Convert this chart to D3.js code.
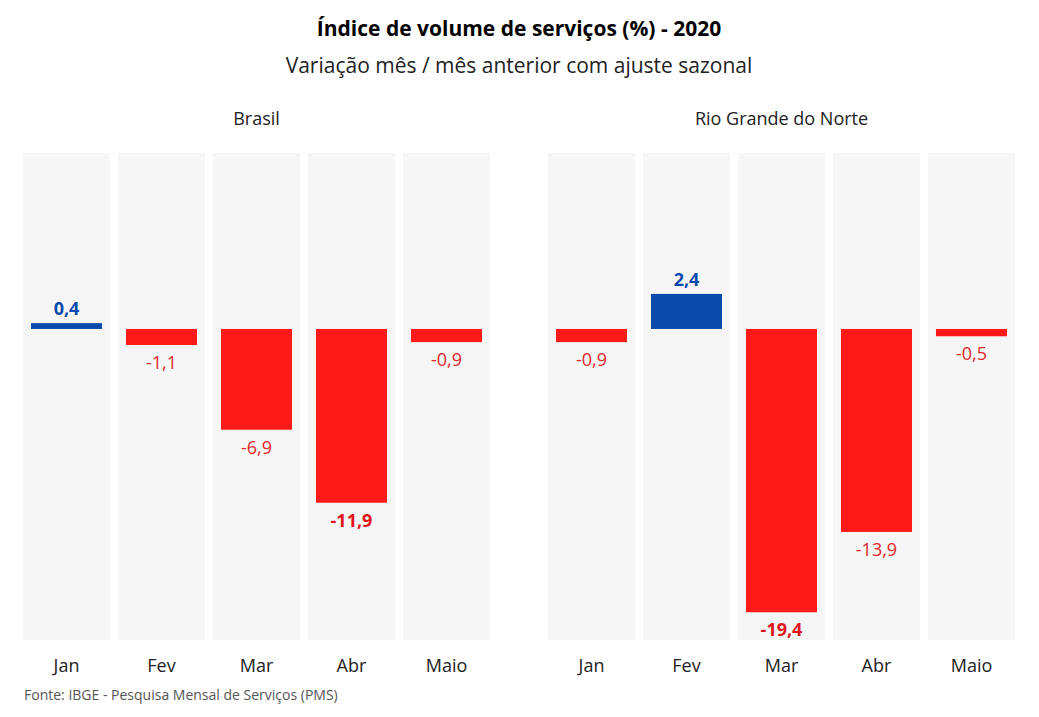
<!DOCTYPE html>
<html><head><meta charset="utf-8">
<script src="https://cdn.jsdelivr.net/npm/d3@7"></script>
<style>body{margin:0;background:#fff;font-family:"Open Sans",sans-serif}</style>
</head><body><svg id="c" width="1039" height="717"></svg>
<script>
const months=["Jan","Fev","Mar","Abr","Maio"];
const panels=["Brasil","Rio Grande do Norte"];
const brasil=[0.4,-1.1,-6.9,-11.9,-0.9];
const rn=[-0.9,2.4,-19.4,-13.9,-0.5];
const labelsBR=["0,4","-1,1","-6,9","-11,9","-0,9"];
const labelsRN=["-0,9","2,4","-19,4","-13,9","-0,5"];
const svg=d3.select("#c");
svg.append("text").attr("x",519).attr("y",36).attr("text-anchor","middle").attr("font-size",21).attr("font-weight",700).text("Índice de volume de serviços (%) - 2020");
svg.append("text").attr("x",519).attr("y",73).attr("text-anchor","middle").attr("font-size",21).attr("fill","#222").text("Variação mês / mês anterior com ajuste sazonal");
svg.append("text").attr("x",24).attr("y",700).attr("font-size",14).attr("fill","#555").text("Fonte: IBGE - Pesquisa Mensal de Serviços (PMS)");
const y=d3.scaleLinear().domain([-21.3,12.05]).range([640,153]);
const data=[[brasil,labelsBR,[23,490]],[rn,labelsRN,[548,1015]]];
data.forEach(([vals,labs,rng],pi)=>{
  const x=d3.scaleBand().domain(months).range(rng).paddingInner(0.084).paddingOuter(0);
  const g=svg.append("g");
  g.append("text").attr("x",(rng[0]+rng[1])/2).attr("y",125).attr("text-anchor","middle").attr("font-size",18).attr("fill","#222").text(panels[pi]);
  const mn=d3.min(vals);
  months.forEach((m,i)=>{
    const v=vals[i];
    g.append("rect").attr("x",x(m)).attr("y",y.range()[1]).attr("width",x.bandwidth()).attr("height",y.range()[0]-y.range()[1]).attr("fill","#f6f6f6");
    const inset=8;
    g.append("rect").attr("x",x(m)+inset).attr("width",x.bandwidth()-2*inset)
      .attr("y",y(Math.max(0,v))).attr("height",Math.abs(y(v)-y(0)))
      .attr("fill",v>=0?"#0a4aad":"#ff1a1a");
    const cx=x(m)+x.bandwidth()/2;
    g.append("text").attr("x",cx).attr("y",v>=0?y(v)-8:y(v)+24).attr("text-anchor","middle").attr("font-size",18)
      .attr("font-weight",(v>=0||v===mn)?700:400).attr("fill",v>=0?"#0a4aad":(v===mn?"#e0141a":"#e0282a")).text(labs[i]);
    g.append("text").attr("x",cx).attr("y",672).attr("text-anchor","middle").attr("font-size",18).attr("fill","#222").text(m);
  });
});
</script></body></html>
